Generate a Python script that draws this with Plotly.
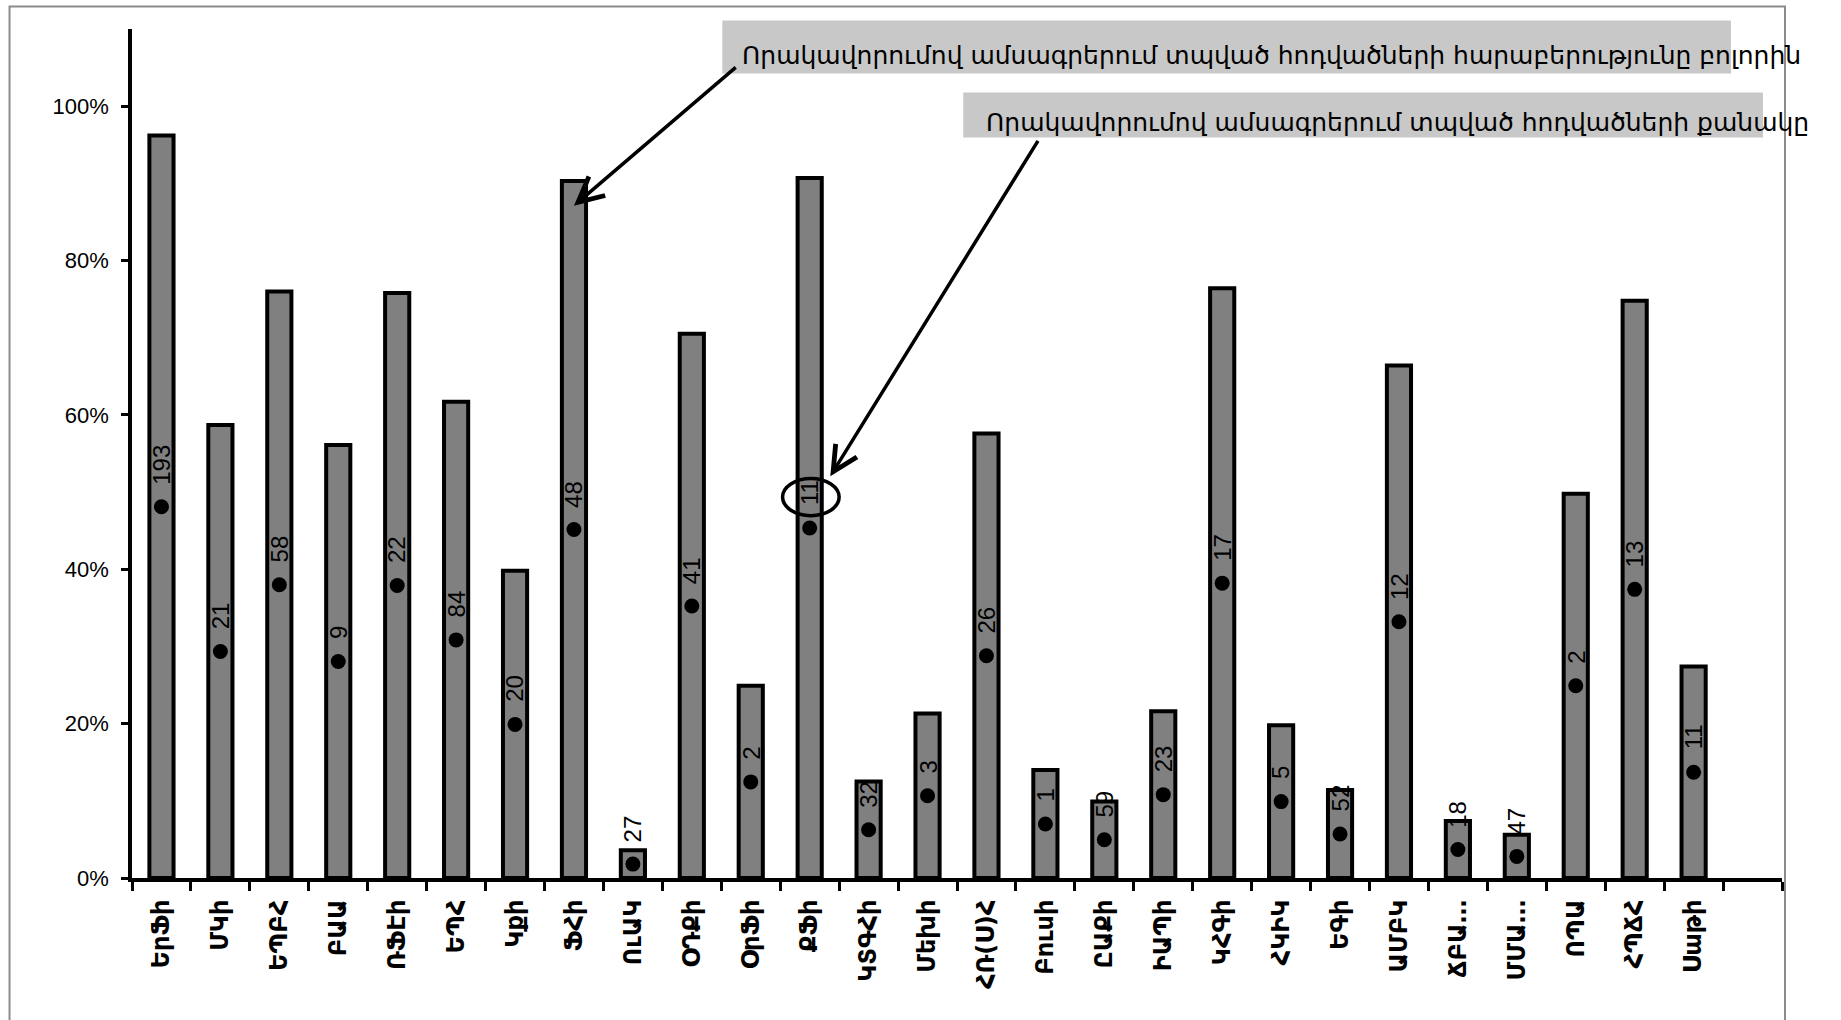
import plotly.graph_objects as go

# Institutions (x-axis categories)
institutions = [
    "ԵրՖի", "ՄԿի", "ԵՊԲՀ", "ԲԱԱ", "ՌՖԷի", "ԵՊՀ", "Կքի", "ՖՀի", "ՈւԱԿ",
    "ՕԴՔի", "ՕրՖի", "ՔՖի", "ԿՏԳՀի", "Մեխի", "ՀՌ(Ս)Հ", "Բուսի", "ԸԱՔի",
    "ԻԱՊի", "ԿՀԳի", "ՀԿԻԿ", "ԵԳի", "ԱՄԲԿ", "ՃԲԱ…", "ՄՄԱ…", "ՈՊԱ",
    "ՀՊՃՀ", "Սաթի",
]
# Share of papers in rated journals, %
share_pct = [
    96.2, 58.7, 76.0, 56.1, 75.8, 61.7, 39.8, 90.3, 3.6,
    70.5, 24.9, 90.7, 12.5, 21.3, 57.6, 14.0, 9.9,
    21.6, 76.4, 19.8, 11.4, 66.4, 7.4, 5.6, 49.8,
    74.8, 27.4,
]
# Number of papers in rated journals
paper_counts = [
    193, 21, 58, 9, 22, 84, 20, 48, 27,
    41, 2, 11, 32, 3, 26, 1, 59,
    23, 17, 5, 52, 12, 18, 47, 2,
    13, 11,
]
y_ticks = [0, 20, 40, 60, 80, 100]
y_tick_text = [f"{v}%" for v in y_ticks]

title_share = "Որակավորումով ամսագրերում տպված հոդվածների հարաբերությունը բոլորին"
title_count = "Որակավորումով ամսագրերում տպված հոդվածների քանակը"

W, H = 1841, 1020
M_L, M_R, M_T, M_B = 131.5, 59, 28.5, 142
PW = W - M_L - M_R
PH = H - M_T - M_B


def px_x(px):
    return (px - M_L) / PW


def px_y(py):
    return (H - M_B - py) / PH


# one trailing empty slot on the category axis
cats = institutions + [" "]
mid_vals = [v / 2 for v in share_pct]

fig = go.Figure()
fig.add_trace(go.Bar(
    x=cats, y=share_pct + [None], width=0.41,
    marker=dict(color="#808080", line=dict(color="black", width=4)),
    hoverinfo="skip", showlegend=False,
))
fig.add_trace(go.Scatter(
    x=institutions, y=mid_vals, mode="markers",
    marker=dict(color="black", size=15),
    hoverinfo="skip", showlegend=False,
))

annotations = []
for name, mv, n in zip(institutions, mid_vals, paper_counts):
    s = str(n)
    annotations.append(dict(
        x=name, y=mv, xref="x", yref="y", text=s, showarrow=False,
        textangle=-90, xanchor="center", yanchor="middle",
        yshift=22 + 6.8 * len(s),
        font=dict(family="Liberation Sans", size=24, color="black"),
    ))

# callout texts
annotations.append(dict(
    x=px_x(740), y=px_y(55), xref="paper", yref="paper", text=title_share,
    showarrow=False, xanchor="left", yanchor="middle",
    font=dict(family="DejaVu Sans", size=25, color="black"),
))
annotations.append(dict(
    x=px_x(984), y=px_y(122), xref="paper", yref="paper", text=title_count,
    showarrow=False, xanchor="left", yanchor="middle",
    font=dict(family="DejaVu Sans", size=25, color="black"),
))

# arrows pointing from the callouts to the bars
i_fhi = institutions.index("ՖՀի")
i_qfi = institutions.index("ՔՖի")
annotations.append(dict(
    x=i_fhi, y=share_pct[i_fhi] - 3.2, xref="x", yref="y",
    ax=9.77, ay=105.2, axref="x", ayref="y", text="",
    showarrow=True, arrowhead=5, arrowsize=1.4, arrowwidth=3.5, arrowcolor="black",
))
annotations.append(dict(
    x=i_qfi + 0.35, y=mid_vals[i_qfi] + 6.7, xref="x", yref="y",
    ax=14.89, ay=95.7, axref="x", ayref="y", text="",
    showarrow=True, arrowhead=5, arrowsize=1.4, arrowwidth=3.5, arrowcolor="black",
))

shapes = [
    # outer chart frame
    dict(type="rect", xref="paper", yref="paper",
         x0=px_x(9), x1=px_x(1785), y0=px_y(1040), y1=px_y(6),
         line=dict(color="#8c8c8c", width=2), fillcolor="rgba(0,0,0,0)", layer="below"),
    # callout backgrounds
    dict(type="rect", xref="paper", yref="paper",
         x0=px_x(722), x1=px_x(1731), y0=px_y(73), y1=px_y(20),
         line=dict(width=0), fillcolor="#c8c8c8", layer="below"),
    dict(type="rect", xref="paper", yref="paper",
         x0=px_x(963), x1=px_x(1763), y0=px_y(137), y1=px_y(92),
         line=dict(width=0), fillcolor="#c8c8c8", layer="below"),
    # hand-drawn ring around one count label
    dict(type="circle", xref="x", yref="y",
         x0=i_qfi - 0.46, x1=i_qfi + 0.5,
         y0=mid_vals[i_qfi] + 1.6, y1=mid_vals[i_qfi] + 6.4,
         line=dict(color="black", width=3.5), fillcolor="rgba(0,0,0,0)", layer="above"),
]

fig.update_layout(
    width=W, height=H,
    margin=dict(l=M_L, r=M_R, t=M_T, b=M_B, pad=0),
    paper_bgcolor="white", plot_bgcolor="white",
    annotations=annotations,
    shapes=shapes,
    xaxis=dict(
        type="category", categoryorder="array", categoryarray=cats,
        range=[-0.5, len(cats) - 0.5],
        showline=True, linecolor="black", linewidth=4,
        ticks="outside", tickson="boundaries", ticklen=9, tickwidth=3, tickcolor="black",
        tickangle=-90, showgrid=False, zeroline=False,
        tickfont=dict(family="DejaVu Sans", size=24, color="black", weight="bold"),
        ticklabelstandoff=8,
        fixedrange=True,
    ),
    yaxis=dict(
        range=[0, 110], tickmode="array", tickvals=y_ticks, ticktext=y_tick_text,
        showline=True, linecolor="black", linewidth=3.5,
        ticks="outside", ticklen=7, tickwidth=3, tickcolor="black",
        showgrid=False, zeroline=False,
        tickfont=dict(family="Liberation Sans", size=22, color="black"),
        ticklabelstandoff=8,
        fixedrange=True,
    ),
)

fig.write_html("out.html")
